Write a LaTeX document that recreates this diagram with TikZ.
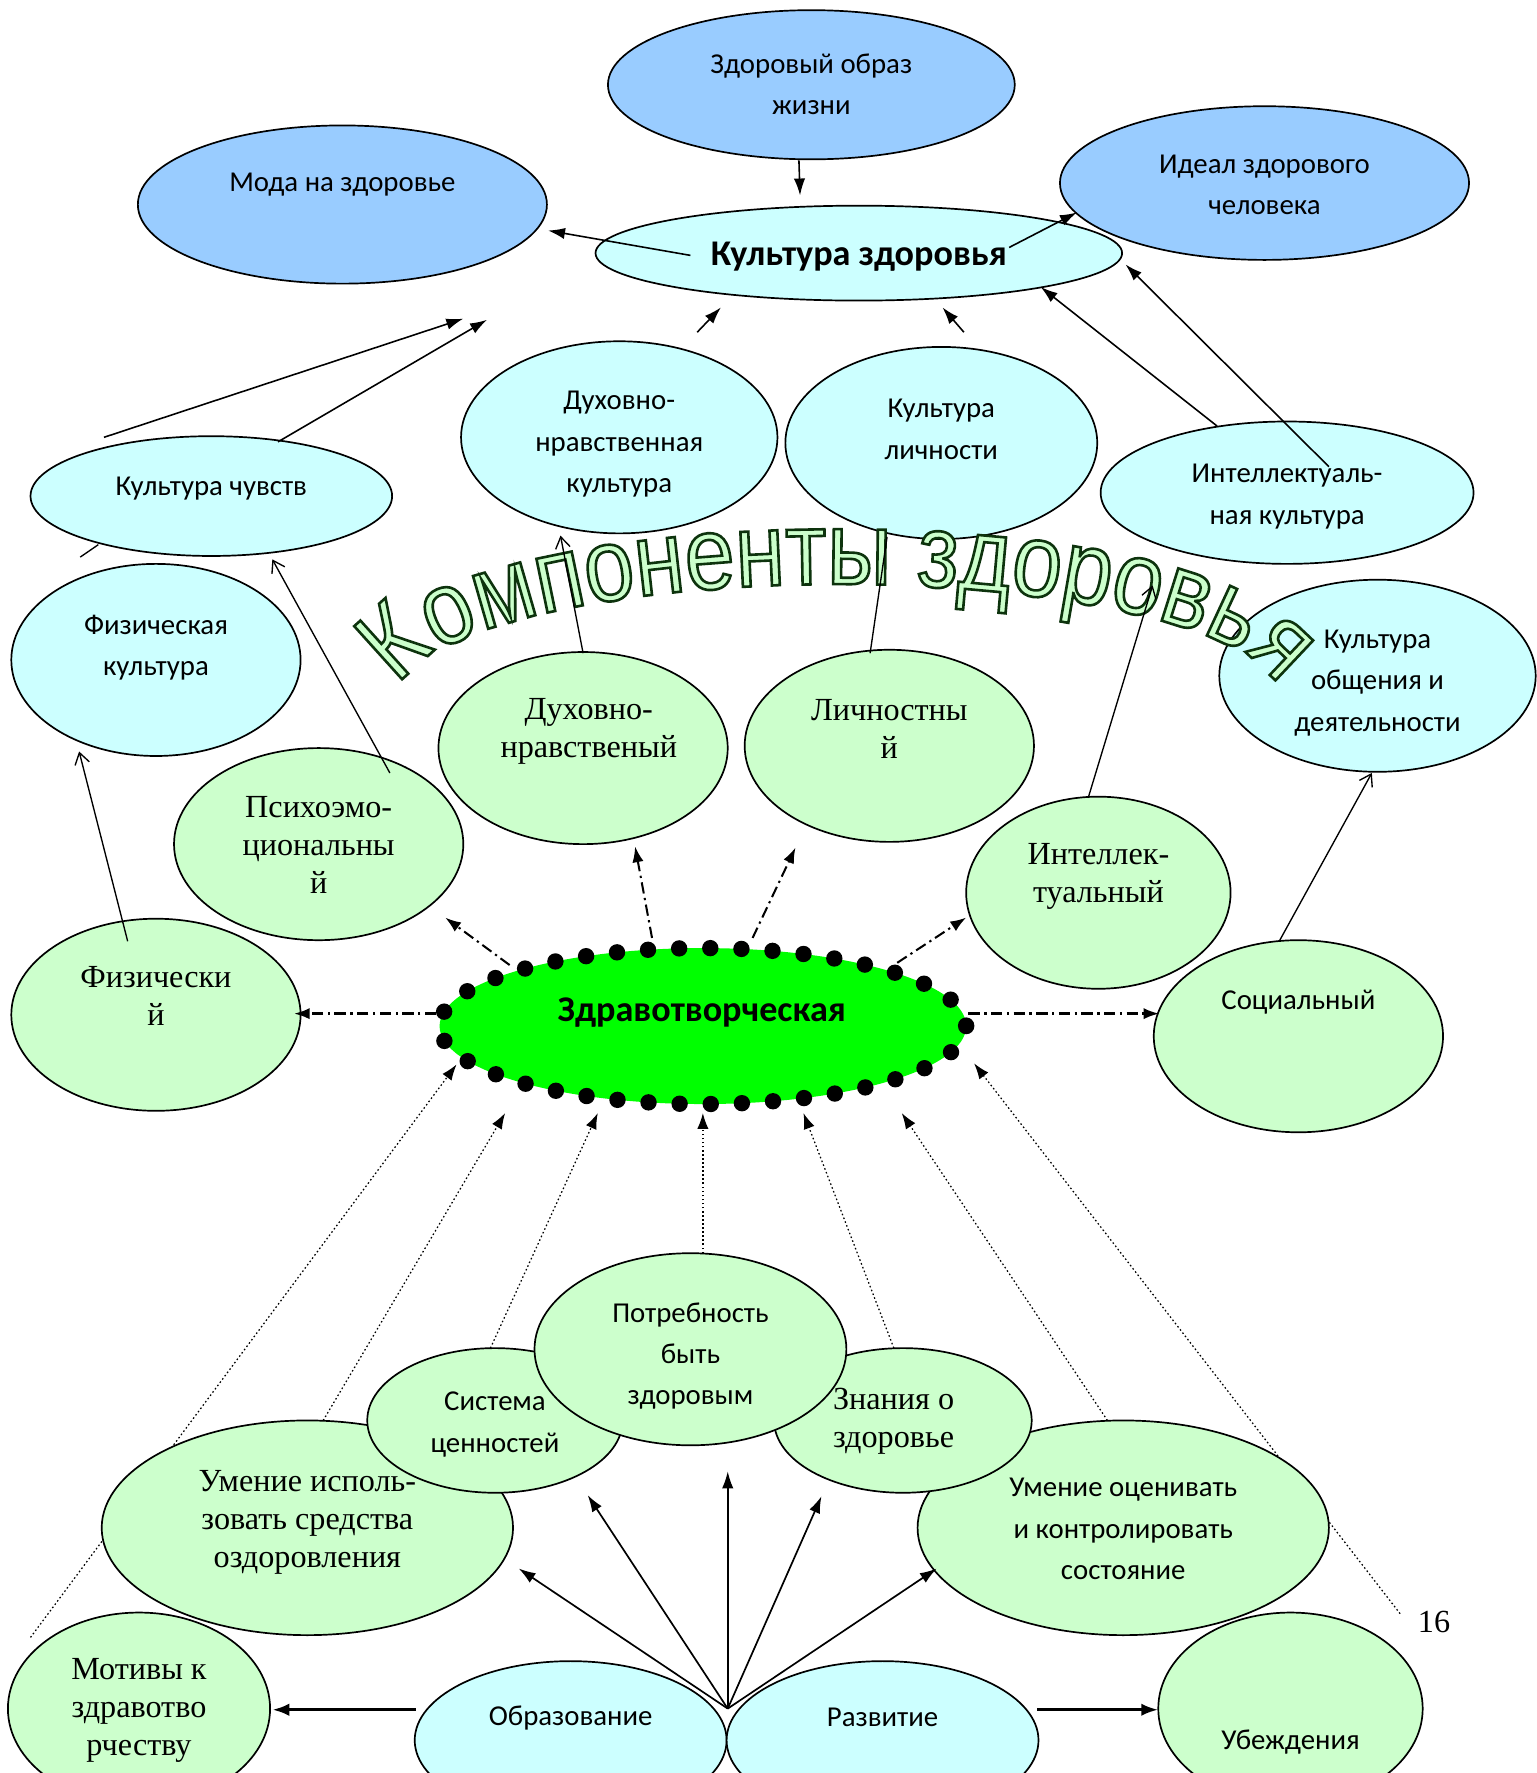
\documentclass[tikz,border=0pt]{standalone}
\usepackage{fontspec}
\setmainfont{Liberation Serif}
\newfontfamily\calfont{Carlito}
\newfontfamily\wafont[FakeStretch=0.86]{Liberation Sans}
\usetikzlibrary{shapes.geometric,arrows.meta,decorations.text}
\definecolor{cblue}{HTML}{99CCFF}
\definecolor{ccyan}{HTML}{CCFFFF}
\definecolor{clgreen}{HTML}{CCFFCC}
\definecolor{cgreen}{HTML}{00FF00}
\newcommand\waout{\special{pdf:literal direct 2 Tr 0.05 0.2 0.05 RG 2.3 w}}
\tikzset{
  ell/.style={draw, line width=1.5pt, ellipse, inner sep=0pt},
  sanst/.style={font=\calfont\fontsize{25.5}{36.5}\selectfont, align=center, inner sep=0pt, yshift=-3pt},
  sansb/.style={font=\calfont\bfseries\fontsize{32}{36}\selectfont, inner sep=0pt, yshift=-3pt},
  serift/.style={font=\fontsize{28.5}{33.5}\selectfont, align=center, inner sep=0pt, yshift=-1.5pt},
  tipf/.style={-{Latex[length=15pt,width=10pt]}, line width=1.4pt},
  opena/.style={-{Straight Barb[length=10pt,width=13pt]}, line width=1.2pt},
  plain/.style={line width=1.2pt},
  dashdot/.style={-{Latex[length=14pt,width=10pt]}, line width=1.8pt, dash pattern=on 10pt off 4pt on 2pt off 4pt},
  dashdotb/.style={-{Latex[length=14pt,width=10pt]}, line width=2.4pt, dash pattern=on 10pt off 4pt on 2pt off 4pt},
  dotl/.style={-{Latex[length=14pt,width=10pt]}, line width=1.1pt, dash pattern=on 1.4pt off 2.2pt},
  thin/.style={-{Latex[length=15pt,width=10pt]}, line width=1.5pt},
  thick/.style={-{Latex[length=15pt,width=11pt]}, line width=2.8pt},
}
\begin{document}
\begin{tikzpicture}[x=1pt,y=-1pt]
\useasboundingbox (0,0) rectangle (1360,1569);
\clip (0,0) rectangle (1360,1569);

% ---------- dotted connectors (behind the lower ellipses)
\coordinate (d1s) at (27,1449);   \coordinate (d1e) at (404,942);
\coordinate (d2s) at (286,1257);  \coordinate (d2e) at (447,985);
\coordinate (d3s) at (434,1193);  \coordinate (d3e) at (529,985);
\coordinate (d4s) at (622,1109);  \coordinate (d4e) at (622,985);
\coordinate (d5s) at (791,1193);  \coordinate (d5e) at (711,985);
\coordinate (d6s) at (980,1257);  \coordinate (d6e) at (798,985);
\coordinate (d7s) at (1239,1428); \coordinate (d7e) at (862,941);
\foreach \i in {1,...,7} \draw[dotl] (d\i s) -- (d\i e);

% ---------- upper ellipses
\node[ell, fill=cblue, minimum width=362, minimum height=136] (ideal) at (1119,162) {};
\node[sanst] (ideal-t) at (1119,160.5) {Идеал здорового\\человека};
\node[ell, fill=cblue, minimum width=362, minimum height=140] (moda) at (303,181) {};
\node[sanst] (moda-t) at (303,160) {Мода на здоровье};
\node[ell, fill=cblue, minimum width=360, minimum height=132] (zozh) at (718,75) {};
\node[sanst] (zozh-t) at (718,71.5) {Здоровый образ\\жизни};
\node[ell, fill=ccyan, minimum width=466, minimum height=84] (kz) at (760,224) {};
\node[sansb] (kz-t) at (760,224) {Культура здоровья};

\node[ell, fill=ccyan, minimum width=320, minimum height=106] (chuv) at (187,439) {};
\node[sanst] (chuv-t) at (187,429) {Культура чувств};
\node[ell, fill=ccyan, minimum width=280, minimum height=170] (dnk) at (548,387) {};
\node[sanst] (dnk-t) at (548,390) {Духовно-\\нравственная\\культура};
\node[ell, fill=ccyan, minimum width=276, minimum height=170] (kl) at (833,392) {};
\node[sanst] (kl-t) at (833,377) {Культура\\личности};
\node[ell, fill=ccyan, minimum width=330, minimum height=126] (ik) at (1139,436) {};
\node[sanst] (ik-t) at (1139,436.5) {Интеллектуаль-\\ная культура};
\node[ell, fill=ccyan, minimum width=256, minimum height=170] (fk) at (138,584) {};
\node[sanst] (fk-t) at (138,570) {Физическая\\культура};
\node[ell, fill=ccyan, minimum width=280, minimum height=170] (ko) at (1219,598) {};
\node[sanst] (ko-t) at (1219,601.5) {Культура\\общения и\\деятельности};

% ---------- components
\node[ell, fill=clgreen, minimum width=256, minimum height=170] (dn) at (516,662) {};
\node[serift] (dn-t) at (521,646) {Духовно-\\нравственый};
\node[ell, fill=clgreen, minimum width=256, minimum height=170] (lich) at (787,660) {};
\node[serift] (lich-t) at (787,643.5) {Личностны\\й};
\node[ell, fill=clgreen, minimum width=256, minimum height=170] (psy) at (282,747) {};
\node[serift] (psy-t) at (282,746) {Психоэмо-\\циональны\\й};
\node[ell, fill=clgreen, minimum width=234, minimum height=170] (int) at (972,790) {};
\node[serift] (int-t) at (972,774) {Интеллек-\\туальный};
\node[ell, fill=clgreen, minimum width=256, minimum height=170] (fiz) at (138,898) {};
\node[serift] (fiz-t) at (138,879.5) {Физически\\й};
\node[ell, fill=clgreen, minimum width=256, minimum height=170] (soc) at (1149,917) {};
\node[sanst] (soc-t) at (1149,884) {Социальный};

% ---------- lower ellipses
\node[ell, fill=clgreen, minimum width=364, minimum height=190] (umi) at (272,1352) {};
\node[serift] (umi-t) at (272,1346) {Умение исполь-\\зовать средства\\оздоровления};
\node[ell, fill=clgreen, minimum width=364, minimum height=190] (umo) at (994,1352) {};
\node[sanst] (umo-t) at (994,1350) {Умение оценивать\\и контролировать\\состояние};
\node[ell, fill=clgreen, minimum width=226, minimum height=128] (sist) at (438,1257) {};
\node[sanst] (sist-t) at (438,1257.5) {Система\\ценностей};
\node[ell, fill=clgreen, minimum width=228, minimum height=128] (znan) at (799,1257) {};
\node[serift, align=left, anchor=west] (znan-t) at (737,1256.5) {Знания о\\здоровье};
\node[ell, fill=clgreen, minimum width=276, minimum height=170] (potr) at (611,1194) {};
\node[sanst] (potr-t) at (611,1197) {Потребность\\быть\\здоровым};
\node[ell, fill=clgreen, minimum width=232, minimum height=170] (mot) at (123,1512) {};
\node[serift] (mot-t) at (123,1512) {Мотивы к\\здравотво\\рчеству};
\node[ell, fill=clgreen, minimum width=234, minimum height=170] (ub) at (1142,1512) {};
\node[sanst] (ub-t) at (1142,1539) {Убеждения};
\node[ell, fill=ccyan, minimum width=276, minimum height=140] (obr) at (505,1540) {};
\node[sanst] (obr-t) at (505,1517) {Образование};
\node[ell, fill=ccyan, minimum width=276, minimum height=140] (razv) at (781,1540) {};
\node[sanst] (razv-t) at (781,1517) {Развитие};
\node[serift] (num) at (1269,1434) {16};

% ---------- central ellipse with dotted border
\node[ellipse, fill=cgreen, inner sep=0pt, minimum width=466, minimum height=138] (zdr) at (622,908) {};
\draw[line width=14.5pt, line cap=round, dash pattern=on 0pt off 27.56pt]
  (zdr.center) ellipse [x radius=233, y radius=69];
\node[sansb] (zdr-t) at (621,893) {Здравотворческая};

% ---------- word art
\path[decorate, decoration={text along path, text align=center,
  text={|\wafont\fontsize{92}{92}\selectfont\color{clgreen}\waout|Компоненты здоровья}}]
  (353,618) arc[start angle=180, end angle=360, x radius=389, y radius=101];

% ---------- connectors, top part
\coordinate (a1s) at (707,142);   \coordinate (a1e) at (708,173);
\coordinate (a2s) at (611,226);   \coordinate (a2e) at (485,204);
\coordinate (a3s) at (893,219);   \coordinate (a3e) at (953,188);
\coordinate (a4s) at (92,387);    \coordinate (a4e) at (410,282);
\coordinate (a5s) at (246,391);   \coordinate (a5e) at (431,283);
\coordinate (a6s) at (617,294);   \coordinate (a6e) at (638,272);
\coordinate (a7s) at (853,294);   \coordinate (a7e) at (834,272);
\coordinate (a8s) at (1077,377);  \coordinate (a8e) at (921,254);
\coordinate (a9s) at (1176,413);  \coordinate (a9e) at (996,234);
\foreach \i in {1,...,9} \draw[tipf] (a\i s) -- (a\i e);

\coordinate (b1s) at (516,578);   \coordinate (b1e) at (496,474);
\coordinate (b3s) at (963,706);   \coordinate (b3e) at (1020,518);
\coordinate (b4s) at (1132,833);  \coordinate (b4e) at (1214,684);
\coordinate (b5s) at (113,833);   \coordinate (b5e) at (70,665);
\coordinate (b6s) at (345,684);   \coordinate (b6e) at (241,495);
\foreach \i in {1,3,4,5,6} \draw[opena] (b\i s) -- (b\i e);
\coordinate (b2s) at (770,578);   \coordinate (b2e) at (785,475);
\coordinate (b7s) at (71,493);    \coordinate (b7e) at (87,482);
\draw[plain] (b2s) -- (b2e);
\draw[plain] (b7s) -- (b7e);

% ---------- dash-dot connectors from the centre
\coordinate (c1s) at (451,854);   \coordinate (c1e) at (394,812);
\coordinate (c2s) at (577,830);   \coordinate (c2e) at (562,749);
\coordinate (c3s) at (666,830);   \coordinate (c3e) at (704,750);
\coordinate (c4s) at (794,852);   \coordinate (c4e) at (855,812);
\foreach \i in {1,...,4} \draw[dashdot] (c\i s) -- (c\i e);
\coordinate (c5s) at (386,897);   \coordinate (c5e) at (260,897);
\coordinate (c6s) at (857,897);   \coordinate (c6e) at (1026,897);
\draw[dashdotb] (c5s) -- (c5e);
\draw[dashdotb] (c6s) -- (c6e);

% ---------- solid connectors at the bottom
\coordinate (hub) at (644,1512);
\coordinate (e1) at (459,1388);
\coordinate (e2) at (520,1323);
\coordinate (e3) at (644,1302);
\coordinate (e4) at (727,1324);
\coordinate (e5) at (829,1388);
\foreach \i in {1,...,5} \draw[thin] (hub) -- (e\i);
\coordinate (f1s) at (368,1513);  \coordinate (f1e) at (241,1513);
\coordinate (f2s) at (918,1513);  \coordinate (f2e) at (1025,1513);
\draw[thick] (f1s) -- (f1e);
\draw[thick] (f2s) -- (f2e);
\end{tikzpicture}
\end{document}
